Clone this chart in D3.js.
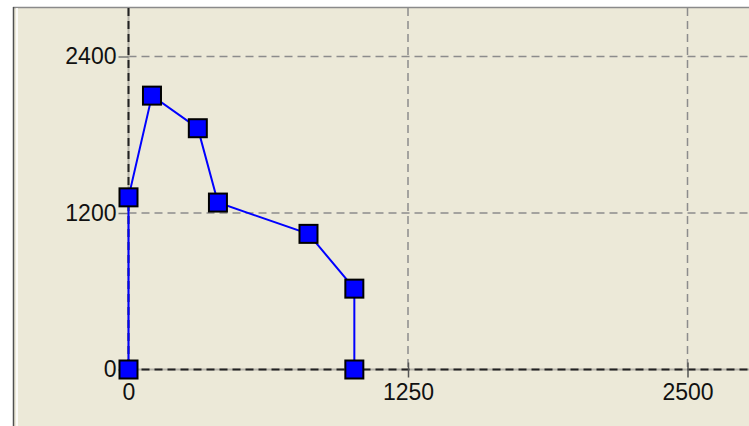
<!DOCTYPE html>
<html>
<head>
<meta charset="utf-8">
<script src="https://cdn.jsdelivr.net/npm/d3@7"></script>
<style>
  html, body { margin: 0; padding: 0; background: #ffffff; }
  svg { display: block; }
  text { font-family: "Liberation Sans", Arial, sans-serif; }
</style>
</head>
<body>
<svg id="chart" width="749" height="426"></svg>
<script>
// ---- data ----
const xValues = [0, 0, 105, 310, 400, 805, 1010, 1010];
const yValues = [0, 1320, 2100, 1850, 1280, 1040, 620, 0];
const xTicks = [0, 1250, 2500];
const yTicks = [0, 1200, 2400];

const W = 749, H = 426;
const svg = d3.select("#chart");

// frame / background
svg.append("rect").attr("x", 13).attr("y", 7).attr("width", W - 13).attr("height", H - 7).attr("fill", "#ECE9D8");
svg.append("line").attr("x1", 13).attr("x2", W).attr("y1", 7.5).attr("y2", 7.5).attr("stroke", "#8a8a8a").attr("stroke-width", 1.5);
svg.append("line").attr("x1", 13.5).attr("x2", 13.5).attr("y1", 7).attr("y2", H).attr("stroke", "#505050").attr("stroke-width", 1.5);
svg.append("line").attr("x1", 17).attr("x2", 17).attr("y1", 8).attr("y2", H).attr("stroke", "#ffffff").attr("stroke-width", 2).attr("opacity", 0.8);

const x = d3.scaleLinear().domain([0, 2500]).range([128.5, 687.5]);
const y = d3.scaleLinear().domain([0, 2400]).range([369.5, 56.5]);

const topY = 8;
const dash = "8,5";

// grid lines
const g = svg.append("g");
g.selectAll(".vgrid").data(xTicks.filter(d => d !== 0)).join("line")
  .attr("x1", d => x(d)).attr("x2", d => x(d))
  .attr("y1", topY).attr("y2", y(0))
  .attr("stroke", "#8c8c8c").attr("stroke-width", 1.5).attr("stroke-dasharray", dash);
g.selectAll(".hgrid").data(yTicks.filter(d => d !== 0)).join("line")
  .attr("x1", x(0)).attr("x2", W)
  .attr("y1", d => y(d)).attr("y2", d => y(d))
  .attr("stroke", "#8c8c8c").attr("stroke-width", 1.5).attr("stroke-dasharray", dash);

// axis lines (dashed dark)
g.append("line").attr("x1", x(0)).attr("x2", x(0)).attr("y1", topY).attr("y2", y(0))
  .attr("stroke", "#b4b2a8").attr("stroke-width", 2);
g.append("line").attr("x1", x(0)).attr("x2", x(0)).attr("y1", topY).attr("y2", y(0))
  .attr("stroke", "#222").attr("stroke-width", 2).attr("stroke-dasharray", dash);
g.append("line").attr("x1", x(0)).attr("x2", W).attr("y1", y(0)).attr("y2", y(0))
  .attr("stroke", "#b4b2a8").attr("stroke-width", 2);
g.append("line").attr("x1", x(0)).attr("x2", W).attr("y1", y(0)).attr("y2", y(0))
  .attr("stroke", "#222").attr("stroke-width", 2).attr("stroke-dasharray", dash);

// axes
const xAxis = d3.axisBottom(x).tickValues(xTicks).tickFormat(d3.format("d")).tickSize(8).tickPadding(6);
const yAxis = d3.axisLeft(y).tickValues(yTicks).tickFormat(d3.format("d")).tickSize(10).tickPadding(2);

const gx = svg.append("g").attr("transform", `translate(0,${y(0)})`).call(xAxis);
gx.select(".domain").remove();
gx.selectAll(".tick line").attr("y1", -7).attr("stroke", "#555").attr("stroke-width", 1.5);
gx.selectAll(".tick text").attr("font-size", 23).attr("fill", "#111")
  .attr("font-family", "'Liberation Sans', Arial, sans-serif");

const gy = svg.append("g").attr("transform", `translate(${x(0)},0)`).call(yAxis);
gy.select(".domain").remove();
gy.selectAll(".tick line").attr("stroke", "#777").attr("stroke-width", 1.5);
gy.selectAll(".tick text").attr("font-size", 23).attr("fill", "#111")
  .attr("font-family", "'Liberation Sans', Arial, sans-serif");

// series
const pts = xValues.map((v, i) => [v, yValues[i]]);
const line = d3.line().x(d => x(d[0])).y(d => y(d[1]));
svg.append("path").datum(pts).attr("d", line)
  .attr("fill", "none").attr("stroke", "#0000ff").attr("stroke-width", 2);

const ms = 18;
svg.selectAll(".mk").data(pts).join("rect")
  .attr("x", d => x(d[0]) - ms / 2).attr("y", d => y(d[1]) - ms / 2)
  .attr("width", ms).attr("height", ms)
  .attr("fill", "#0000ff").attr("stroke", "#000").attr("stroke-width", 2);
</script>
</body>
</html>
